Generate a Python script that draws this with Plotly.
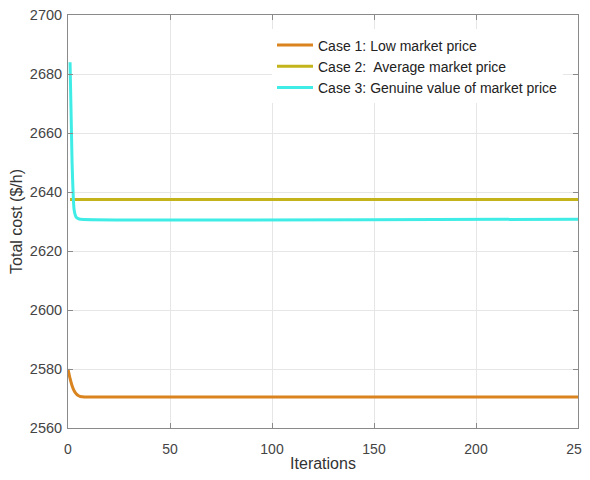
import plotly.graph_objects as go

# Data
iter_case1 = [0, 1, 2, 3, 4, 5, 6, 7, 8, 10, 250]
cost_case1 = [2580.0, 2576.8, 2574.3, 2572.6, 2571.6, 2571.0, 2570.7, 2570.6, 2570.5, 2570.5, 2570.5]

iter_case2 = [1, 250]
cost_case2 = [2637.5, 2637.5]

iter_case3 = [1, 2, 3, 4, 5, 6, 250]
cost_case3 = [2684.0, 2650.0, 2634.0, 2631.5, 2631.0, 2630.8, 2630.8]

names = ["Case 1: Low market price", "Case 2:  Average market price",
         "Case 3: Genuine value of market price"]
colors = ["#D9841F", "#C2B41A", "#3FEDE6"]

x_ticks = [0, 50, 100, 150, 200, 250]
y_ticks = [2560, 2580, 2600, 2620, 2640, 2660, 2680, 2700]

FONT = "Liberation Sans, Arial, sans-serif"

fig = go.Figure()
for xs, ys, nm, c in [(iter_case1, cost_case1, names[0], colors[0]),
                      (iter_case2, cost_case2, names[1], colors[1]),
                      (iter_case3, cost_case3, names[2], colors[2])]:
    fig.add_trace(go.Scatter(x=xs, y=ys, mode="lines", name=nm,
                             line=dict(color=c, width=3, shape="spline", smoothing=0.6)))

axis_common = dict(showline=True, linecolor="#8a8a8a", linewidth=1, mirror="ticks",
                   ticks="inside", ticklen=5, tickcolor="#8a8a8a",
                   showgrid=True, gridcolor="#e6e6e6", gridwidth=1, zeroline=False,
                   automargin=False, ticklabeloverflow="allow")

fig.update_layout(
    width=582, height=464,
    margin=dict(l=60, r=12, t=7, b=44),
    paper_bgcolor="white", plot_bgcolor="white",
    font=dict(family=FONT, color="#333"),
    xaxis=dict(range=[0, 250], tickvals=x_ticks, ticklabelstandoff=8,
               tickfont=dict(family=FONT, size=14, color="#444"),
               title=dict(text="Iterations", font=dict(size=16, color="#333"), standoff=6),
               **axis_common),
    yaxis=dict(range=[2560, 2700], tickvals=y_ticks, ticklabelstandoff=2,
               tickfont=dict(family=FONT, size=14.5, color="#444"),
               title=dict(text="Total cost ($/h)", font=dict(size=16, color="#333"), standoff=6),
               **axis_common),
    legend=dict(x=0.40, y=0.965, xanchor="left", yanchor="top",
                bgcolor="rgba(255,255,255,1)", borderwidth=0,
                font=dict(family=FONT, size=14, color="#222"), tracegroupgap=0,
                itemwidth=36),
    showlegend=True,
)

fig.write_html("out.html")
